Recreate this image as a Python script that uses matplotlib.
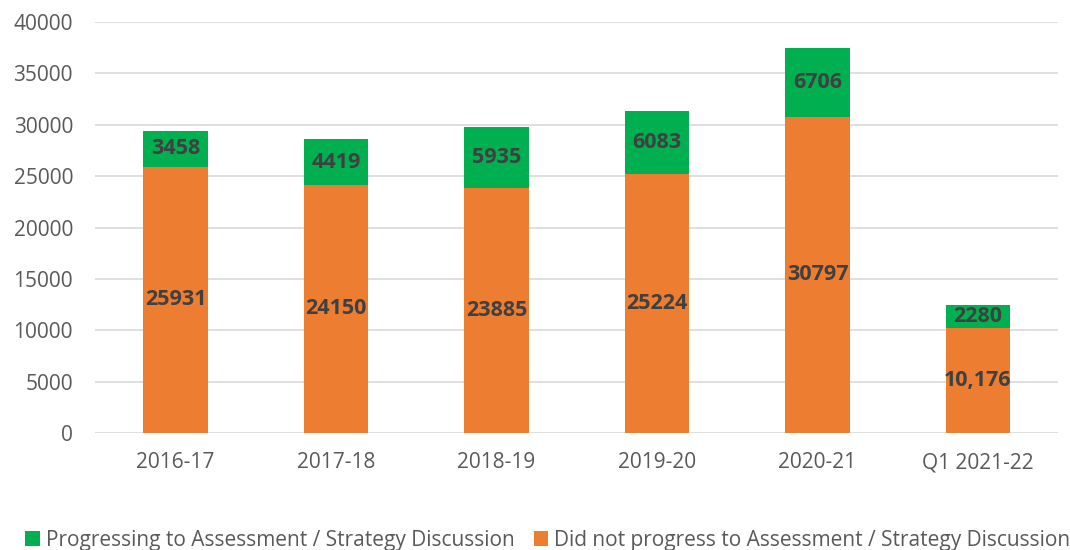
import numpy as np
import matplotlib
matplotlib.use("Agg")
import matplotlib.pyplot as plt

categories = ["2016-17", "2017-18", "2018-19", "2019-20", "2020-21", "Q1 2021-22"]
did_not_progress = [25931, 24150, 23885, 25224, 30797, 10176]
progressing = [3458, 4419, 5935, 6083, 6706, 2280]
did_not_labels = ["25931", "24150", "23885", "25224", "30797", "10,176"]
progressing_labels = ["3458", "4419", "5935", "6083", "6706", "2280"]

orange = "#ED7D31"
green = "#00B050"
text_col = "#595959"
label_col = "#404040"

plt.rcParams["font.family"] = ["Open Sans", "DejaVu Sans"]

fig = plt.figure(figsize=(10.7, 5.5), dpi=100)
ax = fig.add_axes([0.089, 0.2127, 0.9, 0.7473])

x = np.arange(len(categories))
b1 = ax.bar(x, did_not_progress, width=0.4, color=orange, zorder=3,
            label="Did not progress to Assessment / Strategy Discussion")
b2 = ax.bar(x, progressing, width=0.4, bottom=did_not_progress, color=green, zorder=3,
            label="Progressing to Assessment / Strategy Discussion")

ax.bar_label(b1, labels=did_not_labels, label_type="center", fontsize=15.5,
             fontweight="bold", color=label_col)
ax.bar_label(b2, labels=progressing_labels, label_type="center", fontsize=15.5,
             fontweight="bold", color=label_col)

ax.set_xlim(-0.5, 5.5)
ax.set_ylim(0, 40000)
ax.set_yticks(np.arange(0, 40001, 5000))
ax.set_xticks(x)
ax.set_xticklabels(categories)
ax.tick_params(axis="both", length=0, labelsize=15, colors=text_col)
ax.tick_params(axis="x", pad=14)
ax.tick_params(axis="y", pad=16)
ax.yaxis.grid(True, color="#D9D9D9", linewidth=1.2, zorder=0)
for s in ax.spines.values():
    s.set_visible(False)

handles = [b2, b1]
leg = fig.legend(handles, [h.get_label() for h in handles], loc="lower center",
                 bbox_to_anchor=(0.512, -0.036), ncol=2, frameon=False, fontsize=15,
                 handlelength=0.7, handleheight=0.7, handletextpad=0.3, columnspacing=0.9)
for t in leg.get_texts():
    t.set_color(text_col)

fig.savefig("out.png", dpi=100)
